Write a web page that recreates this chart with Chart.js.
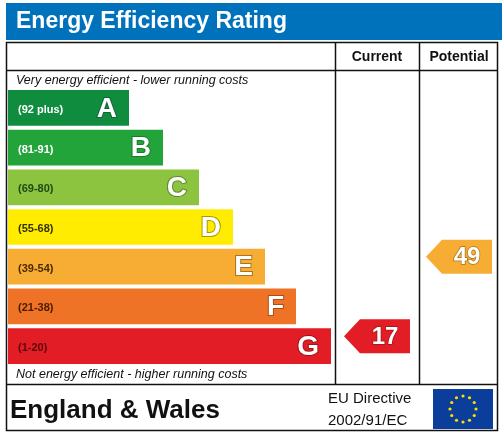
<!DOCTYPE html>
<html><head><meta charset="utf-8">
<script src="https://cdn.jsdelivr.net/npm/chart.js@4"></script>
<style>html,body{margin:0;padding:0;background:#fff}#w{width:504px;height:437px}</style>
</head><body><div id="w"><canvas id="c"></canvas></div>
<script>
const bands = ['A','B','C','D','E','F','G'];
const ranges = ['(92 plus)','(81-91)','(69-80)','(55-68)','(39-54)','(21-38)','(1-20)'];
const barLengths = [121,155,191,225,257,288,323];
const colors = ['#108c3f','#22a43a','#8cc43f','#ffec00','#f7ad33','#ee7326','#e31d25'];
const rangeText = ['#ffffff','#ffffff','#1f4a14','#333300','#4a2a00','#4a1a00','#5a0a0a'];
const letterStroke = ['#0c6a30','#187c2c','#5d8a2a','#a89a00','#a8741f','#a84e18','#a0141a'];
const currentRating = 17, currentBand = 'G';
const potentialRating = 49, potentialBand = 'E';
const titleText = 'Energy Efficiency Rating';
const colHeaders = ['Current','Potential'];
const topNote = 'Very energy efficient - lower running costs';
const bottomNote = 'Not energy efficient - higher running costs';
const region = 'England & Wales';
const directive = ['EU Directive','2002/91/EC'];

const frame = {
  beforeDraw(chart){
    const c = chart.ctx;
    c.save();
    c.fillStyle='#fff'; c.fillRect(0,0,504,437);
    c.fillStyle='#0072bc'; c.fillRect(6,3,496,37);
    c.fillStyle='#fff'; c.font='bold 23px "Liberation Sans", Arial'; c.textBaseline='middle';
    c.fillText(titleText,16,22);
    c.strokeStyle='#111'; c.lineWidth=1.5;
    c.strokeRect(6.5,42.5,491,388);
    c.beginPath();
    c.moveTo(6,70.5); c.lineTo(498,70.5);
    c.moveTo(6,384.5); c.lineTo(498,384.5);
    c.moveTo(335.5,42); c.lineTo(335.5,384);
    c.moveTo(419.5,42); c.lineTo(419.5,384);
    c.stroke();
    c.fillStyle='#111'; c.font='bold 14px "Liberation Sans", Arial'; c.textAlign='center';
    c.fillText(colHeaders[0],377,57); c.fillText(colHeaders[1],459,57);
    c.textAlign='left'; c.font='italic 12.5px "Liberation Sans", Arial';
    c.fillText(topNote,16,81); c.fillText(bottomNote,16,375);
    c.font='bold 26px "Liberation Sans", Arial';
    c.fillText(region,10,411);
    c.font='15px "Liberation Sans", Arial';
    c.fillText(directive[0],328,399); c.fillText(directive[1],328,421);
    c.fillStyle='#0b3d9a'; c.fillRect(433,389,60,40);
    c.fillStyle='#ffdd00';
    for(let i=0;i<12;i++){const a=i*Math.PI/6;
      c.beginPath(); c.arc(463+13*Math.cos(a),409+13*Math.sin(a),1.6,0,Math.PI*2); c.fill();}
    c.restore();
  },
  afterDatasetsDraw(chart){
    const c=chart.ctx, x=chart.scales.x, y=chart.scales.y;
    const meta=chart.getDatasetMeta(0);
    c.save(); c.textBaseline='middle';
    meta.data.forEach((bar,i)=>{
      c.font='bold 11px "Liberation Sans", Arial'; c.fillStyle=rangeText[i]; c.textAlign='left';
      c.fillText(ranges[i],x.getPixelForValue(0)+10,bar.y+2);
      c.font='bold 28px "Liberation Sans", Arial'; c.textAlign='right';
      c.lineWidth=2; c.strokeStyle=letterStroke[i]; c.fillStyle='#fff';
      c.strokeText(bands[i],bar.x-12,bar.y+1); c.fillText(bands[i],bar.x-12,bar.y+1);
    });
    const arrow=(left,band,val)=>{
      const i=bands.indexOf(band), cy=y.getPixelForValue(i)-10, h=34, w=66;
      c.beginPath(); c.moveTo(left,cy); c.lineTo(left+16,cy-h/2); c.lineTo(left+w,cy-h/2);
      c.lineTo(left+w,cy+h/2); c.lineTo(left+16,cy+h/2); c.closePath();
      c.fillStyle=colors[i]; c.fill();
      c.fillStyle='#fff'; c.font='bold 24px "Liberation Sans", Arial'; c.textAlign='center';
      c.lineWidth=1.5; c.strokeStyle=letterStroke[i];
      c.strokeText(String(val),left+w/2+8,cy+1); c.fillText(String(val),left+w/2+8,cy+1);
    };
    arrow(344,currentBand,currentRating);
    arrow(426,potentialBand,potentialRating);
    c.restore();
  }
};

new Chart(document.getElementById('c'),{
  type:'bar',
  data:{labels:bands,datasets:[{data:barLengths,backgroundColor:colors,barPercentage:0.9,categoryPercentage:1}]},
  options:{
    indexAxis:'y',responsive:true,maintainAspectRatio:false,animation:false,
    layout:{padding:{left:8,right:169,top:88,bottom:71}},
    plugins:{legend:{display:false},tooltip:{enabled:false}},
    scales:{x:{display:false,min:0,max:327},y:{display:false}}
  },
  plugins:[frame]
});
</script></body></html>
